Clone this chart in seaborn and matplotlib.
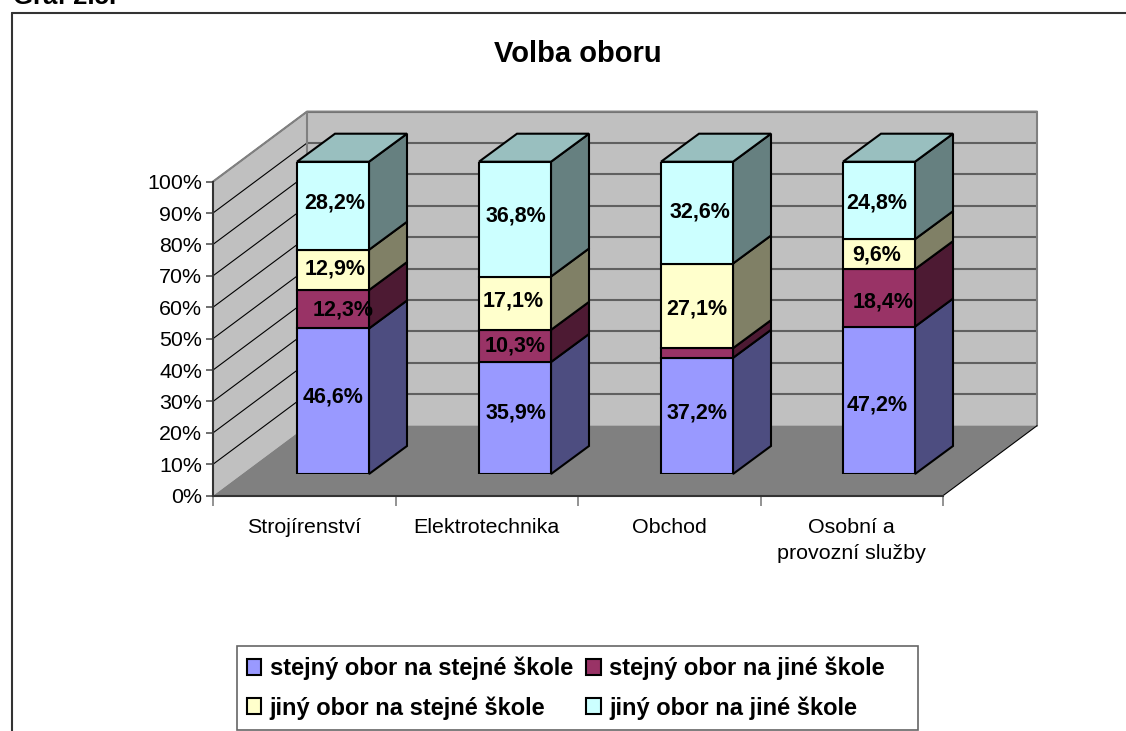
import matplotlib
matplotlib.use("Agg")
import matplotlib.pyplot as plt
import pandas as pd
import seaborn as sns
from matplotlib.patches import Polygon, Rectangle
from matplotlib.lines import Line2D
from matplotlib.ticker import PercentFormatter

# hodnoty
obory = ["Strojírenství", "Elektrotechnika", "Obchod", "Osobní a\nprovozní služby"]
stejny_stejna = [46.6, 35.9, 37.2, 47.2]
stejny_jina = [12.3, 10.3, 3.1, 18.4]
jiny_stejna = [12.9, 17.1, 27.1, 9.6]
jiny_jina = [28.2, 36.8, 32.6, 24.8]

nazvy = ["stejný obor na stejné škole", "stejný obor na jiné škole",
         "jiný obor na stejné škole", "jiný obor na jiné škole"]
barvy = ["#9999FF", "#993366", "#FFFFCC", "#CCFFFF"]
boky = ["#4D4D80", "#4D1A33", "#808066", "#668080"]
vrsek = "#99BFBF"

# posun popisku proti stredu useku (v pixelech), po sloupcich
posuny = [[(0, 4), (10, -1), (2, 1), (2, 3)],
          [(1, 5), (0, 0), (-2, 2), (1, 3)],
          [(0, 3), (0, 0), (0, -3), (3, 1)],
          [(-2, -5), (4, -4), (-2, -1), (-2, -3)]]

W, H = 1126, 731
sns.set_theme(style="white")
plt.rcParams["font.family"] = ["Liberation Sans", "DejaVu Sans"]


def rect_px(x0, y_top, x1, y_bottom):
    return [x0 / W, 1 - y_bottom / H, (x1 - x0) / W, (y_bottom - y_top) / H]


fig = plt.figure(figsize=(W / 100, H / 100), dpi=100, facecolor="white")

# ramecek grafu - jen vlevo a nahore
fig.add_artist(Line2D([11.5 / W, 11.5 / W], [0, 1 - 12.5 / H], color="#333333", lw=1.5))
fig.add_artist(Line2D([11.5 / W, 1], [1 - 12.5 / H, 1 - 12.5 / H], color="#333333", lw=1.5))
fig.text(13 / W, 1 - 4 / H, "Graf 2.5.", fontsize=18.5, fontweight="bold", color="black",
         ha="left", va="baseline")
fig.text(578 / W, 1 - 54.5 / H, "Volba oboru", fontsize=21, fontweight="bold", color="black",
         ha="center", va="center")

# osy v predni rovine grafu
ax = fig.add_axes(rect_px(213, 181.6, 943, 495.7))
ax.set_xlim(-0.5, 3.5)
ax.set_ylim(0, 100)
ax.patch.set_visible(False)

# hloubka grafu v jednotkach os
hl_x = 94 / 182.5
hl_y = 70 / 3.141
ax.add_patch(Polygon([(-0.5, 0), (-0.5 + hl_x, hl_y), (-0.5 + hl_x, 100 + hl_y), (-0.5, 100)],
                     fc="#C0C0C0", ec="none", clip_on=False, zorder=1))
ax.add_patch(Polygon([(-0.5 + hl_x, hl_y), (3.5 + hl_x, hl_y), (3.5 + hl_x, 100 + hl_y), (-0.5 + hl_x, 100 + hl_y)],
                     fc="#C0C0C0", ec="none", clip_on=False, zorder=1))
ax.add_patch(Polygon([(-0.5, 0), (3.5, 0), (3.5 + hl_x, hl_y), (-0.5 + hl_x, hl_y)],
                     fc="#808080", ec="none", clip_on=False, zorder=2))
for v in range(10, 101, 10):
    ax.plot([-0.5, -0.5 + hl_x], [v, v + hl_y], color="black", lw=0.8, clip_on=False, zorder=3)
    ax.plot([-0.5 + hl_x, 3.5 + hl_x], [v + hl_y, v + hl_y], color="#606060", lw=1.5,
            clip_on=False, zorder=3)
# okraje sten
ax.plot([-0.5, -0.5 + hl_x, 3.5 + hl_x, 3.5 + hl_x], [100, 100 + hl_y, 100 + hl_y, hl_y],
        color="#808080", lw=1.5, clip_on=False, zorder=3)
ax.plot([-0.5 + hl_x, -0.5 + hl_x], [hl_y, 100 + hl_y], color="#808080", lw=1.5, clip_on=False, zorder=3)
ax.plot([3.5, 3.5 + hl_x], [0, hl_y], color="black", lw=0.8, clip_on=False, zorder=3)

for s in ["top", "right"]:
    ax.spines[s].set_visible(False)
for s in ["left", "bottom"]:
    ax.spines[s].set_color("#333333")
    ax.spines[s].set_linewidth(1.5)
    ax.spines[s].set_zorder(4)
ax.set_yticks(range(0, 101, 10))
ax.yaxis.set_major_formatter(PercentFormatter(decimals=0))
ax.set_xticks(range(4), obory, linespacing=1.47)
ax.set_xticks([-0.5, 0.5, 1.5, 2.5, 3.5], minor=True)
ax.tick_params(axis="y", left=True, length=5, width=1.2, color="#555555", labelsize=15.4, pad=3,
               labelcolor="black")
ax.tick_params(axis="x", which="major", bottom=False, labelsize=15.4, pad=10, labelcolor="black")
ax.tick_params(axis="x", which="minor", bottom=True, length=7, width=1.2, color="#808080")

# sloupce v rovine posunute do hloubky
ax2 = fig.add_axes(rect_px(242, 161.7, 970, 474), zorder=2)
ax2.patch.set_visible(False)

serie = [stejny_stejna, stejny_jina, jiny_stejna, jiny_jina]
df = pd.DataFrame({"obor": obory})
for n, hodnoty in zip(nazvy, serie):
    df[n] = hodnoty
df["soucet"] = df[nazvy].sum(axis=1)

sirka = 72 / 182
dx = 38 / 182
dy = 28 / 3.123
spodek = pd.Series(0.0, index=df.index)
for j, n in enumerate(nazvy):
    podil = df[n] / df["soucet"] * 100
    sns.barplot(data=df.assign(podil=podil), x="obor", y="podil", width=sirka, bottom=spodek.values,
                color=barvy[j], saturation=1, edgecolor="black", linewidth=1.5, errorbar=None,
                ax=ax2, zorder=3, label=n, legend=False)
    for i in df.index:
        b0, b1 = spodek[i], spodek[i] + podil[i]
        xr = i + sirka / 2
        ax2.add_patch(Polygon([(xr, b0), (xr + dx, b0 + dy), (xr + dx, b1 + dy), (xr, b1)],
                              fc=boky[j], ec="black", lw=1.5, clip_on=False, zorder=2))
        if j == 3:
            xl = i - sirka / 2
            ax2.add_patch(Polygon([(xl, b1), (xl + dx, b1 + dy), (xr + dx, b1 + dy), (xr, b1)],
                                  fc=vrsek, ec="black", lw=1.5, clip_on=False, zorder=2))
        # maly usek nema popisek
        if df.loc[i, n] >= 5:
            ox, oy = posuny[i][j]
            ax2.annotate(f"{df.loc[i, n]:.1f}%".replace(".", ","), (i, (b0 + b1) / 2), xytext=(ox * 0.72, oy * 0.72),
                         textcoords="offset points", ha="center", va="center", fontsize=15.5,
                         fontweight="bold", color="black", zorder=6, annotation_clip=False)
    spodek = spodek + podil

ax2.set_xlim(-0.5, 3.5)
ax2.set_ylim(0, 100)
ax2.axis("off")

# legenda - ramecek zvlast, aby mel presnou sirku
handles, labels = ax2.get_legend_handles_labels()
if ax2.get_legend() is not None:
    ax2.get_legend().remove()
fig.add_artist(Rectangle((236.7 / W, 1 - 730 / H), 681 / W, 84 / H, transform=fig.transFigure,
                         fc="white", ec="#666666", lw=1.2))
poradi = [0, 2, 1, 3]
leg = fig.legend([handles[k] for k in poradi], [labels[k] for k in poradi], ncols=2,
                 loc="upper left", bbox_to_anchor=(246.5 / W, 1 - 656.5 / H),
                 borderaxespad=0, frameon=False, handlelength=0.63, handleheight=0.68,
                 handletextpad=0.35, columnspacing=0.55, labelspacing=0.68, borderpad=0,
                 labelcolor="black", prop={"weight": "bold", "size": 17})

fig.savefig("out.png", dpi=100, facecolor="white")
